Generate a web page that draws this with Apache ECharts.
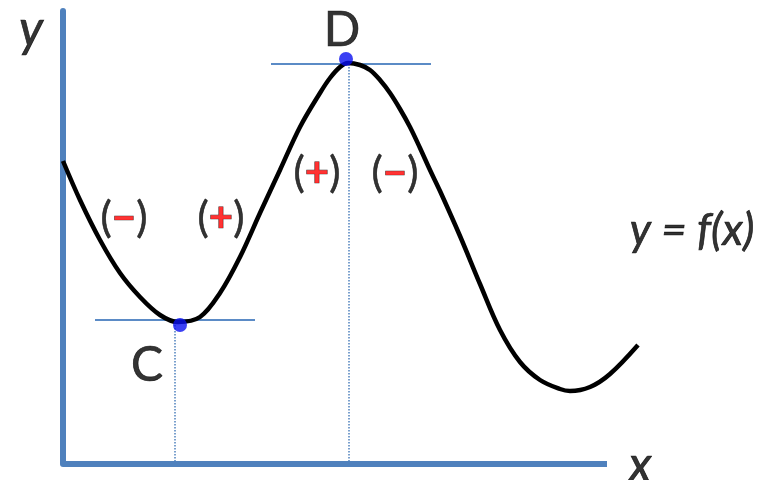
<!DOCTYPE html>
<html>
<head>
<meta charset="utf-8">
<script src="https://cdn.jsdelivr.net/npm/echarts@6/dist/echarts.min.js"></script>
<style>
  html, body { margin: 0; padding: 0; background: #fff; }
  #main { width: 766px; height: 480px; }
</style>
</head>
<body>
<div id="main"></div>
<script>
// curve y = f(x) (units: px from the axes origin)
const curveX = [0, 17, 37, 57, 77, 97, 115, 137, 157, 177, 197, 217, 237, 257, 267, 277, 285,
  297, 307, 317, 327, 337, 347, 357, 367, 377, 397, 417, 437, 457, 477, 497, 507, 527, 547, 575];
const curveY = [303, 264, 224, 191, 167, 149, 142, 147, 171, 207, 251, 294, 337, 371, 386, 397, 401,
  399, 394, 384, 371, 355, 337, 316, 294, 273, 228, 180, 134, 102, 84, 75, 73, 77, 90, 119];

// critical points C (min) and D (max)
const pointX = [117, 283];
const pointY = [139, 405];

// horizontal tangents through C and D
const tangentC = { x: [32, 192], y: 144 };
const tangentD = { x: [208, 368], y: 400 };

// dotted drop lines to the x axis
const dropX = [112, 286];
const dropTop = [139, 400];

// axes extents
const xAxisEnd = 544;
const yAxisEnd = 453;

// text annotations
const noteText = ['y', 'x', 'D', 'C', 'y = f(x)', 'minus', 'plus', 'plus', 'minus'];
const noteX = [-32, 577, 279, 84, 629, 61, 158, 254, 332];
const noteY = [434, -2, 433, 98, 233, 246, 246, 291, 291];

const axisColor = '#4f81bd';
const font = 'Lato, "Noto Sans", sans-serif';

const chart = echarts.init(document.getElementById('main'));

const zip = (xs, ys) => xs.map((x, i) => [x, ys[i]]);

function noteLabel(t) {
  const rich = {
    p: { fontSize: 42, color: '#000', fontFamily: font, textBorderColor: '#000', textBorderWidth: 0.6 },
    r: { fontSize: 42, color: '#ff0000', fontWeight: 'bold', fontFamily: font }
  };
  if (t === 'minus') return { text: '{p|(}{r|\u2212}{p|)}', rich };
  if (t === 'plus') return { text: '{p|(}{r|+}{p|)}', rich };
  if (t === 'y' || t === 'x') return { text: t, style: { fontSize: 50, fontStyle: 'italic' } };
  if (t === 'y = f(x)') return { text: t, style: { fontSize: 44, fontStyle: 'italic' } };
  return { text: t, style: { fontSize: 48 } };
}

const notes = noteText.map((t, i) => {
  const l = noteLabel(t);
  return {
    value: [noteX[i], noteY[i]],
    label: Object.assign({
      show: true,
      position: 'inside',
      formatter: l.text,
      color: '#000',
      textBorderColor: '#000',
      textBorderWidth: 0.7,
      fontFamily: font,
      align: 'center',
      verticalAlign: 'middle',
      rich: l.rich
    }, l.style || {})
  };
});

const series = [
  // x axis line (shorter than the plotting area, curve runs past it)
  {
    type: 'line',
    data: [[0, 0], [xAxisEnd, 0]],
    symbol: 'none',
    lineStyle: { color: axisColor, width: 6 },
    clip: false,
    z: 1
  },
  {
    type: 'line',
    data: zip(tangentC.x, [tangentC.y, tangentC.y]),
    symbol: 'none',
    lineStyle: { color: '#5b8bc6', width: 2 },
    clip: false,
    z: 2
  },
  {
    type: 'line',
    data: zip(tangentD.x, [tangentD.y, tangentD.y]),
    symbol: 'none',
    lineStyle: { color: '#5b8bc6', width: 2 },
    clip: false,
    z: 2
  }
];

dropX.forEach((x, i) => {
  series.push({
    type: 'line',
    data: [[x, dropTop[i]], [x, 0]],
    symbol: 'none',
    lineStyle: { color: axisColor, width: 1.5, type: [1.5, 1.5] },
    clip: false,
    z: 2
  });
});

series.push({
  type: 'line',
  data: zip(curveX, curveY),
  smooth: 0.35,
  symbol: 'none',
  lineStyle: { color: '#000', width: 4.5 },
  clip: false,
  z: 3
});

series.push({
  type: 'scatter',
  data: zip(pointX, pointY),
  symbolSize: 14,
  itemStyle: { color: '#0a10f0' },
  clip: false,
  z: 4
});

series.push({
  type: 'scatter',
  data: notes,
  symbolSize: 0,
  clip: false,
  silent: true,
  z: 5
});

chart.setOption({
  backgroundColor: '#fff',
  animation: false,
  grid: { left: 63, top: 11, width: 575, height: 453 },
  xAxis: {
    type: 'value', min: 0, max: 575,
    axisLine: { show: false },
    axisTick: { show: false }, axisLabel: { show: false }, splitLine: { show: false }
  },
  yAxis: {
    type: 'value', min: 0, max: yAxisEnd,
    axisLine: { show: true, lineStyle: { color: axisColor, width: 6 } },
    axisTick: { show: false }, axisLabel: { show: false }, splitLine: { show: false }
  },
  series: series
});
</script>
</body>
</html>
